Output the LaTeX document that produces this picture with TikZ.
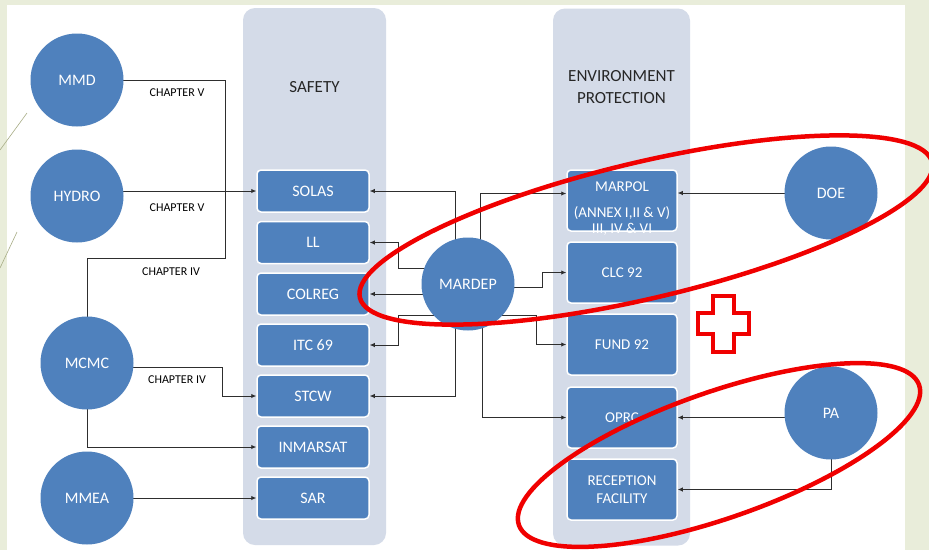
\documentclass[tikz,border=0pt]{standalone}
\usepackage{fontspec}
\setmainfont{Carlito}
\usetikzlibrary{calc,arrows.meta}
\pgfdeclarelayer{bg}
\pgfdeclarelayer{links}
\pgfdeclarelayer{fg}
\pgfsetlayers{bg,links,main,fg}
\definecolor{bggreen}{HTML}{E9EDDA}
\definecolor{nodeblue}{HTML}{4F81BD}
\definecolor{panelgray}{HTML}{D4DBE8}
\definecolor{linegray}{HTML}{2E2E2E}
\definecolor{deco}{HTML}{A8AD86}
\definecolor{hred}{HTML}{F00000}
\tikzset{
  circ/.style={circle, fill=nodeblue, minimum size=93pt, inner sep=0pt, text=white, font=\fontsize{16}{19}\selectfont},
  sbox/.style={rectangle, rounded corners=4pt, fill=nodeblue, draw=white, line width=1.5pt, minimum width=112pt, minimum height=42pt, inner sep=0pt, text=white, font=\fontsize{16}{19}\selectfont, align=center},
  ebox/.style={sbox, minimum width=110pt, minimum height=61pt, font=\fontsize{15}{18}\selectfont},
  panel/.style={rectangle, fill=panelgray, rounded corners=12pt, inner sep=0pt},
  ptitle/.style={font=\fontsize{17}{22}\selectfont, text=black!85, align=center},
  chap/.style={font=\fontsize{12}{14}\selectfont, text=black},
  conn/.style={draw=linegray, line width=0.9pt},
  arr/.style={conn, -{Latex[length=5pt,width=4.5pt]}},
  hilite/.style={draw=hred, line width=4.5pt},
}
\begin{document}
\begin{tikzpicture}[x=1pt,y=1pt]
\useasboundingbox (0,0) rectangle (929,-550);
\begin{pgfonlayer}{bg}
  \fill[bggreen] (0,0) rectangle (929,-550);
  \fill[white] (7,-5) rectangle (905,-550);
  \draw[deco, line width=0.6pt] (0,-150) -- (27,-113);
  \draw[deco, line width=0.6pt] (0,-268) -- (17,-232);
  \node[panel, minimum width=143pt, minimum height=537pt] (safetypanel) at (314.5,-276.5) {};
  \node[panel, minimum width=137pt, minimum height=537pt] (envpanel) at (621.5,-277) {};
\end{pgfonlayer}

% panel titles
\node[ptitle] (safetytitle) at (314.5,-87) {SAFETY};
\node[ptitle] (envtitle) at (621.5,-87) {ENVIRONMENT\\PROTECTION};

% left circles
\node[circ] (mmd) at (77,-80) {MMD};
\node[circ] (hydro) at (77,-196) {HYDRO};
\node[circ] (mcmc) at (87,-363) {MCMC};
\node[circ] (mmea) at (87,-498) {MMEA};

% safety boxes
\node[sbox] (solas) at (313,-191) {SOLAS};
\node[sbox] (ll) at (313,-242.5) {LL};
\node[sbox] (colreg) at (313,-294) {COLREG};
\node[sbox] (itc) at (313,-345) {ITC 69};
\node[sbox] (stcw) at (313,-396) {STCW};
\node[sbox] (inmarsat) at (313,-447) {INMARSAT};
\node[sbox] (sar) at (313,-498) {SAR};

% centre
\node[circ] (mardep) at (468,-284) {MARDEP};

% environment boxes
\node[ebox] (marpol) at (622,-200.5) {MARPOL\\[8pt](ANNEX I,II \& V)};
\node[text=white, font=\fontsize{15}{18}\selectfont] (marpolx) at (622,-229) {III, IV \& VI};
\node[ebox] (clc) at (622,-272.5) {CLC 92};
\node[ebox] (fund) at (622,-344.5) {FUND 92};
\node[ebox] (oprc) at (622,-417.5) {OPRC};
\node[ebox] (reception) at (622,-489.5) {RECEPTION\\FACILITY};

% right circles
\node[circ] (doe) at (831,-193) {DOE};
\node[circ] (pa) at (831,-413) {PA};

% chapter labels
\node[chap] (chap1) at (177,-93) {CHAPTER V};
\node[chap] (chap2) at (177,-208) {CHAPTER V};
\node[chap] (chap3) at (171,-272) {CHAPTER IV};
\node[chap] (chap4) at (177,-380) {CHAPTER IV};

\begin{pgfonlayer}{links}
  % left side
  \draw[conn] (mmd.center) -| (225,-258) -| (mcmc.center);
  \draw[arr] (hydro.center |- solas.west) -- (solas.west);
  \draw[arr] (mcmc.center) ++(0,-4) -| ($(stcw.west)+(-34,0)$) -- (stcw.west);
  \draw[arr] (mcmc.center) |- (inmarsat.west);
  \draw[arr] (mmea.center) -- (sar.west);
  % MARDEP to safety
  \draw[arr] (mardep.center) ++(-13,0) |- (solas.east);
  \draw[arr] (mardep.center) ++(0,16) -| ($(ll.east)+(29,0)$) -- (ll.east);
  \draw[arr] (mardep.center |- colreg.east) -- (colreg.east);
  \draw[arr] (mardep.center) ++(0,-31) -| ($(itc.east)+(29,0)$) -- (itc.east);
  \draw[arr] (mardep.center) ++(-13,0) |- (stcw.east);
  % MARDEP to environment
  \draw[arr] (mardep.center) ++(12,0) |- ($(marpol.west)+(0,7)$);
  \draw[arr] (mardep.center) ++(0,-3) -| ($(clc.west)+(-24,0)$) -- (clc.west);
  \draw[arr] (mardep.center) ++(0,-31) -| ($(fund.west)+(-30,0)$) -- (fund.west);
  \draw[arr] (mardep.center) ++(14,0) |- (oprc.west);
  % right side
  \draw[arr] (doe.center) -- (doe.center -| marpol.east);
  \draw[arr] (pa.center |- oprc.east) -- (oprc.east);
  \draw[arr] (pa.center) |- (reception.east);
\end{pgfonlayer}

\begin{pgfonlayer}{fg}
  \draw[hilite, rotate around={13.3:(646,-230)}] (646,-230) ellipse [x radius=294, y radius=68];
  \draw[hilite, rotate around={19.3:(719,-455)}] (719,-455) ellipse [x radius=212, y radius=63];
  \draw[hilite, fill=white, line join=miter] (713,-296) -- (734,-296) -- (734,-313) -- (749,-313) -- (749,-334) -- (734,-334) -- (734,-352) -- (713,-352) -- (713,-334) -- (698,-334) -- (698,-313) -- (713,-313) -- cycle;
\end{pgfonlayer}
\end{tikzpicture}
\end{document}
